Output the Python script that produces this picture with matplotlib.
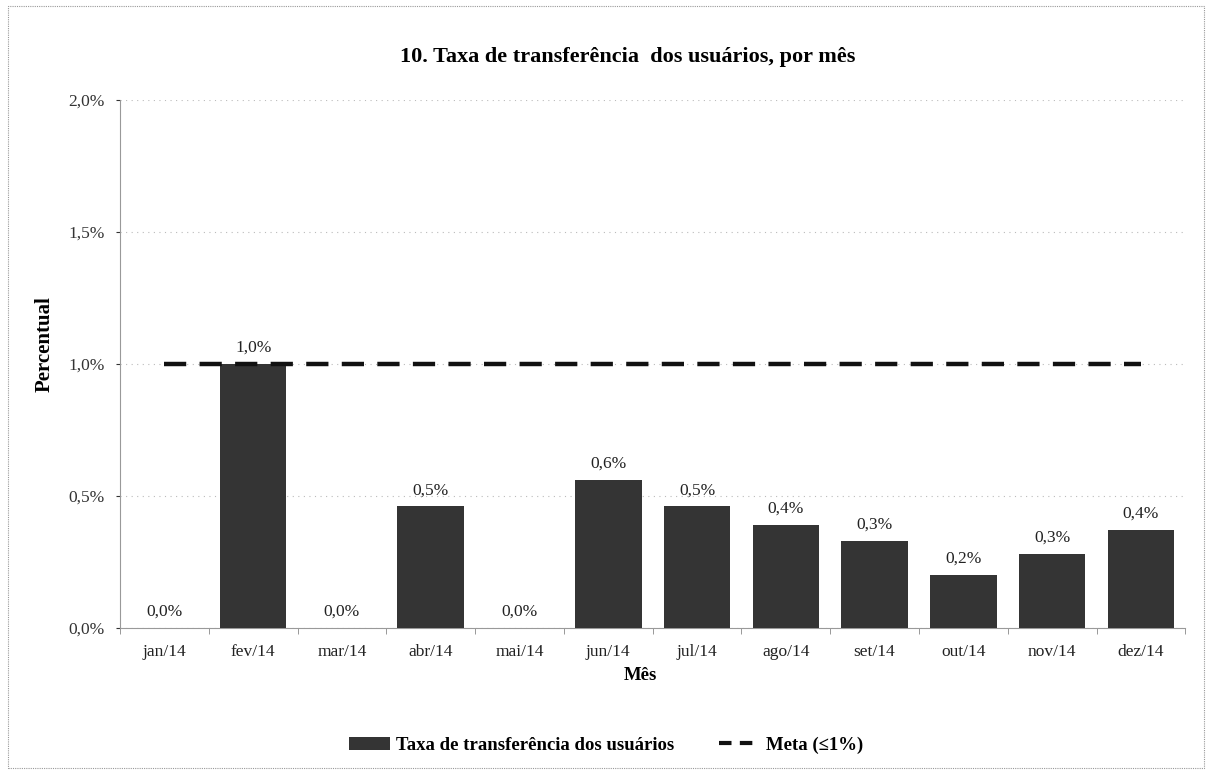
import matplotlib
matplotlib.use("Agg")
import matplotlib.pyplot as plt
from matplotlib.ticker import FuncFormatter, FixedLocator
from matplotlib.patches import Rectangle, Patch
from matplotlib.lines import Line2D
import numpy as np

plt.rcParams['font.family'] = ['Liberation Serif', 'DejaVu Serif']

months = ["jan/14", "fev/14", "mar/14", "abr/14", "mai/14", "jun/14",
          "jul/14", "ago/14", "set/14", "out/14", "nov/14", "dez/14"]
taxa = [0.0, 1.0, 0.0, 0.46, 0.0, 0.56, 0.46, 0.39, 0.33, 0.20, 0.28, 0.37]
meta = [1.0] * 12
yticks = [0.0, 0.5, 1.0, 1.5, 2.0]

title = "10. Taxa de transferência  dos usuários, por mês"
ylabel = "Percentual"
xlabel = "Mês"
leg_bar = "Taxa de transferência dos usuários"
leg_line = "Meta (≤1%)"

fig = plt.figure(figsize=(12.12, 7.74), dpi=100)
ax = fig.add_axes([0.099, 0.189, 0.879, 0.682])

x = np.arange(len(months))
ax.bar(x, taxa, width=0.75, color="#343434", zorder=3)
ax.plot(x, meta, color="#111111", lw=3.2, dashes=(5, 3), zorder=4)

for xi, v in zip(x, taxa):
    ax.text(xi, v + 0.03, f"{v:.1f}%".replace(".", ","), ha="center", va="bottom",
            fontsize=12.5, color="#222222", zorder=5)

ax.set_ylim(0, 2.0)
ax.set_xlim(-0.5, len(months) - 0.5)
ax.yaxis.set_major_locator(FixedLocator(yticks))
ax.yaxis.set_major_formatter(FuncFormatter(lambda v, p: f"{v:.1f}%".replace(".", ",")))
ax.set_xticks(x)
ax.set_xticklabels(months)
ax.set_xticks(np.arange(-0.5, len(months), 1.0), minor=True)
ax.tick_params(axis="x", which="major", length=0, pad=12, labelsize=12.5, colors="#222222")
ax.tick_params(axis="x", which="minor", length=4, color="#888888")
ax.tick_params(axis="y", length=3, labelsize=12.5, colors="#333333", pad=8)

ax.grid(axis="y", color="#bbbbbb", lw=0.8, ls=(0, (1, 4)), zorder=0)
for s in ["top", "right"]:
    ax.spines[s].set_visible(False)
ax.spines["left"].set_color("#999999")
ax.spines["left"].set_linestyle((0, (1, 1)))
ax.spines["bottom"].set_color("#999999")
ax.spines["bottom"].set_linestyle((0, (1, 1)))

fig.text(0.518, 0.927, title, ha="center", va="center", fontsize=16, fontweight="bold")
fig.text(0.037, 0.555, ylabel, ha="center", va="center", rotation=90, fontsize=15, fontweight="bold")
fig.text(0.528, 0.127, xlabel, ha="center", va="center", fontsize=13.5, fontweight="bold")

handles = [Patch(facecolor="#343434", edgecolor="none"),
           Line2D([0], [0], color="#111111", lw=3, dashes=(3, 2))]
leg = fig.legend(handles, [leg_bar, leg_line], loc="center", bbox_to_anchor=(0.5, 0.037),
                 ncol=2, frameon=False, fontsize=13.5, handlelength=2.2, columnspacing=2.4,
                 handletextpad=0.3)
for t in leg.get_texts():
    t.set_fontweight("bold")

fig.patches.append(Rectangle((0.007, 0.008), 0.986, 0.984, transform=fig.transFigure,
                             fill=False, edgecolor="#999999", lw=0.8, ls=(0, (1, 1))))

fig.savefig("out.png", dpi=100)
